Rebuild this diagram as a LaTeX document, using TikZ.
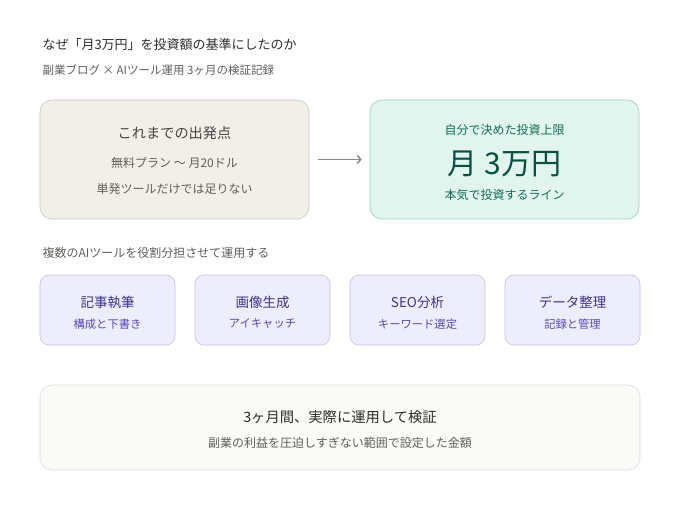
\documentclass[tikz,border=0pt]{standalone}
\usepackage{fontspec}
\setmainfont{Noto Sans CJK JP}
\usetikzlibrary{arrows.meta}
\definecolor{sandfill}{HTML}{F1EFE8}
\definecolor{sandline}{HTML}{C9C7BE}
\definecolor{mintfill}{HTML}{E1F5EE}
\definecolor{mintline}{HTML}{8FD3B8}
\definecolor{mintdark}{HTML}{085041}
\definecolor{mintmid}{HTML}{0F6E56}
\definecolor{lilacfill}{HTML}{EEEDFE}
\definecolor{lilacline}{HTML}{C2BDF0}
\definecolor{lilacdark}{HTML}{3C3489}
\definecolor{lilacmid}{HTML}{534AB7}
\definecolor{paperfill}{HTML}{FAFAF8}
\definecolor{paperline}{HTML}{DDDBD3}
\definecolor{inkdark}{HTML}{2C2C2A}
\definecolor{inkmid}{HTML}{444441}
\definecolor{inksoft}{HTML}{5F5E5A}
\definecolor{arrowgray}{HTML}{888780}
\tikzset{
  panel/.style={rounded corners=12pt, line width=0.6pt},
  startbox/.style={panel, fill=sandfill, draw=sandline, minimum width=269pt, minimum height=119pt},
  goalbox/.style={panel, fill=mintfill, draw=mintline, minimum width=269pt, minimum height=119pt},
  toolbox/.style={panel, rounded corners=9pt, fill=lilacfill, draw=lilacline, minimum width=135pt, minimum height=70pt},
  notebox/.style={panel, fill=paperfill, draw=paperline, minimum width=600pt, minimum height=85pt},
  arrowline/.style={draw=arrowgray, line width=1.4pt, -{Straight Barb[length=3.5pt,width=8pt]}},
  headtext/.style={font=\fontsize{13}{15}\selectfont, text=inkdark},
  subtext/.style={font=\fontsize{11.5}{13}\selectfont, text=inksoft},
  bodytext/.style={font=\fontsize{12}{14}\selectfont},
  tooltitle/.style={font=\fontsize{13.5}{16}\selectfont, text=lilacdark},
  toolsub/.style={font=\fontsize{11.3}{13}\selectfont, text=lilacmid}
}
\begin{document}
\begin{tikzpicture}[x=1pt, y=-1pt]
  \useasboundingbox (0,0) rectangle (680,510);

  % heading
  \node[headtext, anchor=west] (title) at (39,45) {なぜ「月3万円」を投資額の基準にしたのか};
  \node[subtext, anchor=west] (subtitle) at (39,70) {副業ブログ × AIツール運用 3ヶ月の検証記録};

  % start and goal
  \node[startbox] (start) at (174.5,159.5) {};
  \node[font=\fontsize{14.2}{16}\selectfont, text=inkmid] (startA) at (174.5,133) {これまでの出発点};
  \node[bodytext, text=inksoft] (startB) at (174.5,163) {無料プラン 〜 月20ドル};
  \node[bodytext, text=inksoft] (startC) at (174.5,189) {単発ツールだけでは足りない};

  \node[goalbox] (goal) at (504.5,159.5) {};
  \node[bodytext, text=mintmid] (goalA) at (504.5,130) {自分で決めた投資上限};
  \node[font=\fontsize{30}{34}\selectfont, text=mintdark] (goalB) at (504.5,164) {月 3万円};
  \node[bodytext, text=mintmid] (goalC) at (504.5,195) {本気で投資するライン};

  \draw[arrowline, shorten <=9pt, shorten >=8pt] (start) -- (goal);

  % tools
  \node[bodytext, text=inksoft, anchor=west] (toollabel) at (39,253) {複数のAIツールを役割分担させて運用する};

  \foreach \cx/\name/\main/\sub in {107.5/write/記事執筆/構成と下書き,
                                    262.5/image/画像生成/アイキャッチ,
                                    417.5/seo/SEO分析/キーワード選定,
                                    572.5/data/データ整理/記録と管理}{
    \node[toolbox] (\name) at (\cx,310) {};
    \node[tooltitle] (\name-main) at (\cx,302) {\main};
    \node[toolsub] (\name-sub) at (\cx,324) {\sub};
  }

  % note
  \node[notebox] (note) at (340,427.5) {};
  \node[font=\fontsize{14.3}{16}\selectfont, text=inkdark] (noteA) at (340,417) {3ヶ月間、実際に運用して検証};
  \node[bodytext, text=inksoft] (noteB) at (340,443) {副業の利益を圧迫しすぎない範囲で設定した金額};
\end{tikzpicture}
\end{document}
